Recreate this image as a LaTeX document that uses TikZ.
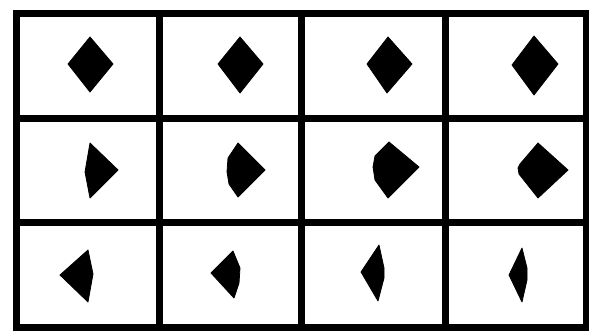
\documentclass[tikz,border=0pt]{standalone}
\begin{document}
\begin{tikzpicture}[x=1pt,y=-1pt,
  gridline/.style={line width=7pt,black},
  blob/.style={fill=black,draw=black,line width=0.8pt,line join=round}]
\useasboundingbox (0,0) rectangle (589,331);
% grid
\draw[gridline] (16,14) rectangle (586,327);
\draw[gridline] (159,14) -- (159,327);
\draw[gridline] (301,14) -- (301,327);
\draw[gridline] (445,14) -- (445,327);
\draw[gridline] (16,119) -- (586,119);
\draw[gridline] (16,223) -- (586,223);
% row 1: diamonds
\fill[blob] (90,37) -- (113,64) -- (90,92) -- (68,64) -- cycle;
\fill[blob] (240,37) -- (263,64) -- (240,93) -- (218,64) -- cycle;
\fill[blob] (388,37) -- (412,64) -- (387,93) -- (367,64) -- cycle;
\fill[blob] (534,36) -- (558,64) -- (534,95) -- (512,65) -- cycle;
% row 2
\fill[blob] (90,143) -- (118,170) -- (90,198) -- (85,172) -- cycle;
\fill[blob] (238,143) -- (265,170) -- (238,197) -- (229,184) -- (227,172) -- (228,158) -- cycle;
\fill[blob] (389,142) -- (419,167) -- (388,198) -- (375,180) -- (373,167) -- (375,156) -- cycle;
\fill[blob] (538,143) -- (568,170) -- (538,198) -- (519,174) -- (518,168) -- (520,164) -- cycle;
% row 3
\fill[blob] (60,275) -- (88,250) -- (93,274) -- (88,302) -- cycle;
\fill[blob] (211,273) -- (233,251) -- (240,268) -- (239,283) -- (234,298) -- cycle;
\fill[blob] (361,272) -- (379,245) -- (384,268) -- (384,278) -- (378,301) -- cycle;
\fill[blob] (509,275) -- (522,248) -- (527,268) -- (527,280) -- (522,302) -- cycle;
\end{tikzpicture}
\end{document}
